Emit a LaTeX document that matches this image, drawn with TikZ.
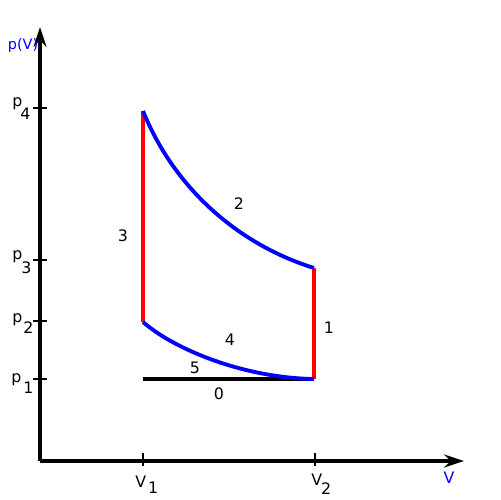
\documentclass[tikz,border=0pt]{standalone}
\usepackage{fontspec}
\setmainfont{DejaVu Sans}
\usetikzlibrary{arrows.meta}

\begin{document}
\begin{tikzpicture}[
    x=0.02cm, y=-0.02cm,
    >={Stealth[length=0.4cm, width=0.26cm, inset=0.14cm]},
    axis/.style={line width=2.2pt, ->},
    tick/.style={line width=0.7pt},
    isoch/.style={draw=red, line width=2.8pt},
    adiab/.style={draw=blue, line width=2.2pt},
    num/.style={font=\fontsize{9}{11}\selectfont, inner sep=0pt},
    sublbl/.style={num, anchor=base west}
  ]
  \useasboundingbox (0,0) rectangle (500,500);

  % Axes
  \coordinate (O) at (40,461);
  \coordinate (ytop) at (40,27);
  \coordinate (xend) at (464,461);
  \draw[axis] (O) -- (ytop);
  \draw[axis] (O) -- (xend);
  \node[num, text=blue, font=\fontsize{8.2}{10}\selectfont] (ylab) at (23,46) {p(V)};
  \node[num, text=blue] (xlab) at (449,478) {V};

  % Ticks on the p axis
  \draw[tick] (33,108) -- (47,108);
  \draw[tick] (33,260) -- (47,260);
  \draw[tick] (33,321) -- (47,321);
  \draw[tick] (33,379) -- (47,379);
  \node[sublbl] (p4) at (12,107) {p\kern-0.04cm\raisebox{-0.26cm}{4}};
  \node[sublbl] (p3) at (12,259) {p\kern-0.02cm\raisebox{-0.28cm}{3}};
  \node[sublbl] (p2) at (12,322) {p\kern0.02cm\raisebox{-0.22cm}{2}};
  \node[sublbl] (p1) at (11,382) {p\kern0.04cm\raisebox{-0.22cm}{1}};

  % Ticks on the V axis
  \draw[tick] (143,453) -- (143,466);
  \draw[tick] (315,453) -- (315,466);
  \node[sublbl] (v1) at (135,487) {V\kern0.04cm\raisebox{-0.12cm}{1}};
  \node[sublbl] (v2) at (311,485) {V\kern-0.02cm\raisebox{-0.18cm}{2}};

  % Cycle corners
  \coordinate (A) at (143,111);
  \coordinate (B) at (314,268);
  \coordinate (C) at (314,379);
  \coordinate (D) at (143,322);
  \coordinate (E) at (143,379);

  % Base line
  \draw[line width=2.2pt] (E) -- (C);

  % Isochores
  \draw[isoch] (A) -- (D);
  \draw[isoch] (B) -- (C);

  % Adiabats
  \draw[adiab] (A) .. controls (175,190) and (240,245) .. (B);
  \draw[adiab] (D) .. controls (175,350) and (245,378) .. (C);

  % Step numbers
  \node[num] (n1) at (329,328) {1};
  \node[num] (n2) at (239,204) {2};
  \node[num] (n3) at (123,236) {3};
  \node[num] (n4) at (230,340) {4};
  \node[num] (n5) at (195,368) {5};
  \node[num] (n0) at (219,394) {0};
\end{tikzpicture}
\end{document}
